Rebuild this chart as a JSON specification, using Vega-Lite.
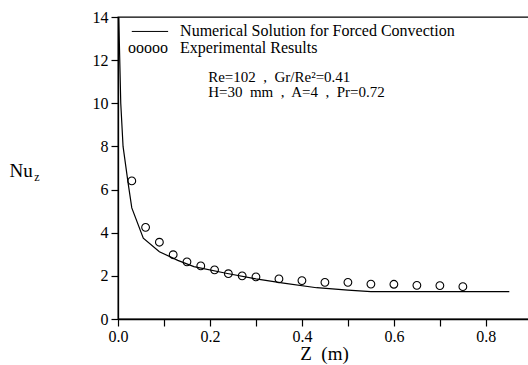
{
  "$schema": "https://vega.github.io/schema/vega-lite/v6.json",
  "autosize": "none",
  "width": 412,
  "height": 302,
  "padding": {"left": 118, "top": 17, "right": 0, "bottom": 46},
  "background": "white",
  "config": {
    "view": {"stroke": "black", "strokeWidth": 1.3},
    "font": "Liberation Serif",
    "axis": {
      "labelFont": "Liberation Serif",
      "titleFont": "Liberation Serif",
      "labelColor": "black",
      "titleColor": "black",
      "titleFontWeight": "normal",
      "labelFontSize": 16,
      "grid": false,
      "domainColor": "black",
      "domainWidth": 1.3,
      "tickColor": "black",
      "tickWidth": 1.2,
      "labelFlush": false
    },
    "text": {"font": "Liberation Serif", "color": "black"}
  },
  "datasets": {
    "numerical": [
      {"z": 0.001, "nu": 14.6},
      {"z": 0.006, "nu": 10.0},
      {"z": 0.011, "nu": 8.0},
      {"z": 0.022, "nu": 6.3},
      {"z": 0.030, "nu": 5.15},
      {"z": 0.055, "nu": 3.75},
      {"z": 0.090, "nu": 3.12},
      {"z": 0.130, "nu": 2.72},
      {"z": 0.165, "nu": 2.43},
      {"z": 0.235, "nu": 2.12},
      {"z": 0.300, "nu": 1.86},
      {"z": 0.360, "nu": 1.66},
      {"z": 0.432, "nu": 1.45},
      {"z": 0.500, "nu": 1.34},
      {"z": 0.550, "nu": 1.27},
      {"z": 0.851, "nu": 1.27}
    ],
    "experimental": [
      {"z": 0.03, "nu": 6.4},
      {"z": 0.06, "nu": 4.25},
      {"z": 0.09, "nu": 3.56},
      {"z": 0.12, "nu": 2.98},
      {"z": 0.15, "nu": 2.65},
      {"z": 0.18, "nu": 2.46},
      {"z": 0.21, "nu": 2.28},
      {"z": 0.24, "nu": 2.1},
      {"z": 0.27, "nu": 2.0},
      {"z": 0.30, "nu": 1.95},
      {"z": 0.35, "nu": 1.86},
      {"z": 0.40, "nu": 1.78},
      {"z": 0.45, "nu": 1.7},
      {"z": 0.50, "nu": 1.7},
      {"z": 0.55, "nu": 1.62},
      {"z": 0.60, "nu": 1.61},
      {"z": 0.65, "nu": 1.56},
      {"z": 0.70, "nu": 1.55},
      {"z": 0.75, "nu": 1.5}
    ],
    "legendline": [
      {"z": 0.03, "z2": 0.109, "nu": 13.33}
    ],
    "labels": [
      {"z": 0.135, "nu": 13.33, "text": "Numerical Solution for Forced Convection"},
      {"z": 0.135, "nu": 12.55, "text": "Experimental Results"}
    ],
    "info": [
      {"z": 0.196, "nu": 11.22, "text": "Re=102\u00a0 ,\u00a0 Gr/Re²=0.41"},
      {"z": 0.196, "nu": 10.52, "text": "H=30\u00a0 mm\u00a0 ,\u00a0 A=4\u00a0 ,\u00a0 Pr=0.72"}
    ],
    "circles": [
      {"z": 0.022, "nu": 12.55, "text": "ooooo"}
    ],
    "nu": [
      {"z": -0.236, "nu": 6.86, "text": "Nu"}
    ],
    "sub": [
      {"z": -0.182, "nu": 6.58, "text": "z"}
    ]
  },
  "layer": [
    {
      "data": {"name": "numerical"},
      "mark": {"type": "line", "color": "black", "strokeWidth": 1.2, "clip": true},
      "encoding": {
        "x": {
          "field": "z", "type": "quantitative",
          "scale": {"domain": [0, 0.896], "nice": false, "zero": false},
          "axis": {
            "title": "Z\u00a0\u00a0(m)",
            "values": [0, 0.1, 0.2, 0.3, 0.4, 0.5, 0.6, 0.7, 0.8],
            "labelExpr": "(round(datum.value*10) % 2 == 0) ? format(datum.value, '.1f') : ''",
            "tickSize": 7,
            "labelPadding": 2,
            "titleFontSize": 19,
            "titlePadding": 0
          }
        },
        "y": {
          "field": "nu", "type": "quantitative",
          "scale": {"domain": [0, 14], "nice": false},
          "axis": {
            "title": null,
            "values": [0, 1, 2, 3, 4, 5, 6, 7, 8, 9, 10, 11, 12, 13, 14],
            "labelExpr": "datum.value % 2 == 0 ? datum.label : ''",
            "tickSize": 7,
            "labelPadding": 3
          }
        }
      }
    },
    {
      "data": {"name": "experimental"},
      "mark": {"type": "point", "shape": "circle", "filled": false, "color": "black", "size": 60, "strokeWidth": 1.1, "opacity": 1},
      "encoding": {
        "x": {"field": "z", "type": "quantitative"},
        "y": {"field": "nu", "type": "quantitative"}
      }
    },
    {
      "data": {"name": "legendline"},
      "mark": {"type": "rule", "color": "black", "strokeWidth": 1},
      "encoding": {
        "x": {"field": "z", "type": "quantitative"},
        "x2": {"field": "z2"},
        "y": {"field": "nu", "type": "quantitative"}
      }
    },
    {
      "data": {"name": "labels"},
      "mark": {"type": "text", "align": "left", "baseline": "middle", "font": "Liberation Serif", "fontSize": 16, "color": "black"},
      "encoding": {
        "x": {"field": "z", "type": "quantitative"},
        "y": {"field": "nu", "type": "quantitative"},
        "text": {"field": "text"}
      }
    },
    {
      "data": {"name": "info"},
      "mark": {"type": "text", "align": "left", "baseline": "middle", "font": "Liberation Serif", "fontSize": 15, "color": "black"},
      "encoding": {
        "x": {"field": "z", "type": "quantitative"},
        "y": {"field": "nu", "type": "quantitative"},
        "text": {"field": "text"}
      }
    },
    {
      "data": {"name": "circles"},
      "mark": {"type": "text", "align": "left", "baseline": "middle", "font": "Liberation Serif", "fontSize": 16, "color": "black"},
      "encoding": {
        "x": {"field": "z", "type": "quantitative"},
        "y": {"field": "nu", "type": "quantitative"},
        "text": {"field": "text"}
      }
    },
    {
      "data": {"name": "nu"},
      "mark": {"type": "text", "align": "left", "baseline": "middle", "font": "Liberation Serif", "fontSize": 19, "color": "black"},
      "encoding": {
        "x": {"field": "z", "type": "quantitative"},
        "y": {"field": "nu", "type": "quantitative"},
        "text": {"field": "text"}
      }
    },
    {
      "data": {"name": "sub"},
      "mark": {"type": "text", "align": "left", "baseline": "middle", "font": "Liberation Serif", "fontSize": 12, "color": "black"},
      "encoding": {
        "x": {"field": "z", "type": "quantitative"},
        "y": {"field": "nu", "type": "quantitative"},
        "text": {"field": "text"}
      }
    }
  ]
}
